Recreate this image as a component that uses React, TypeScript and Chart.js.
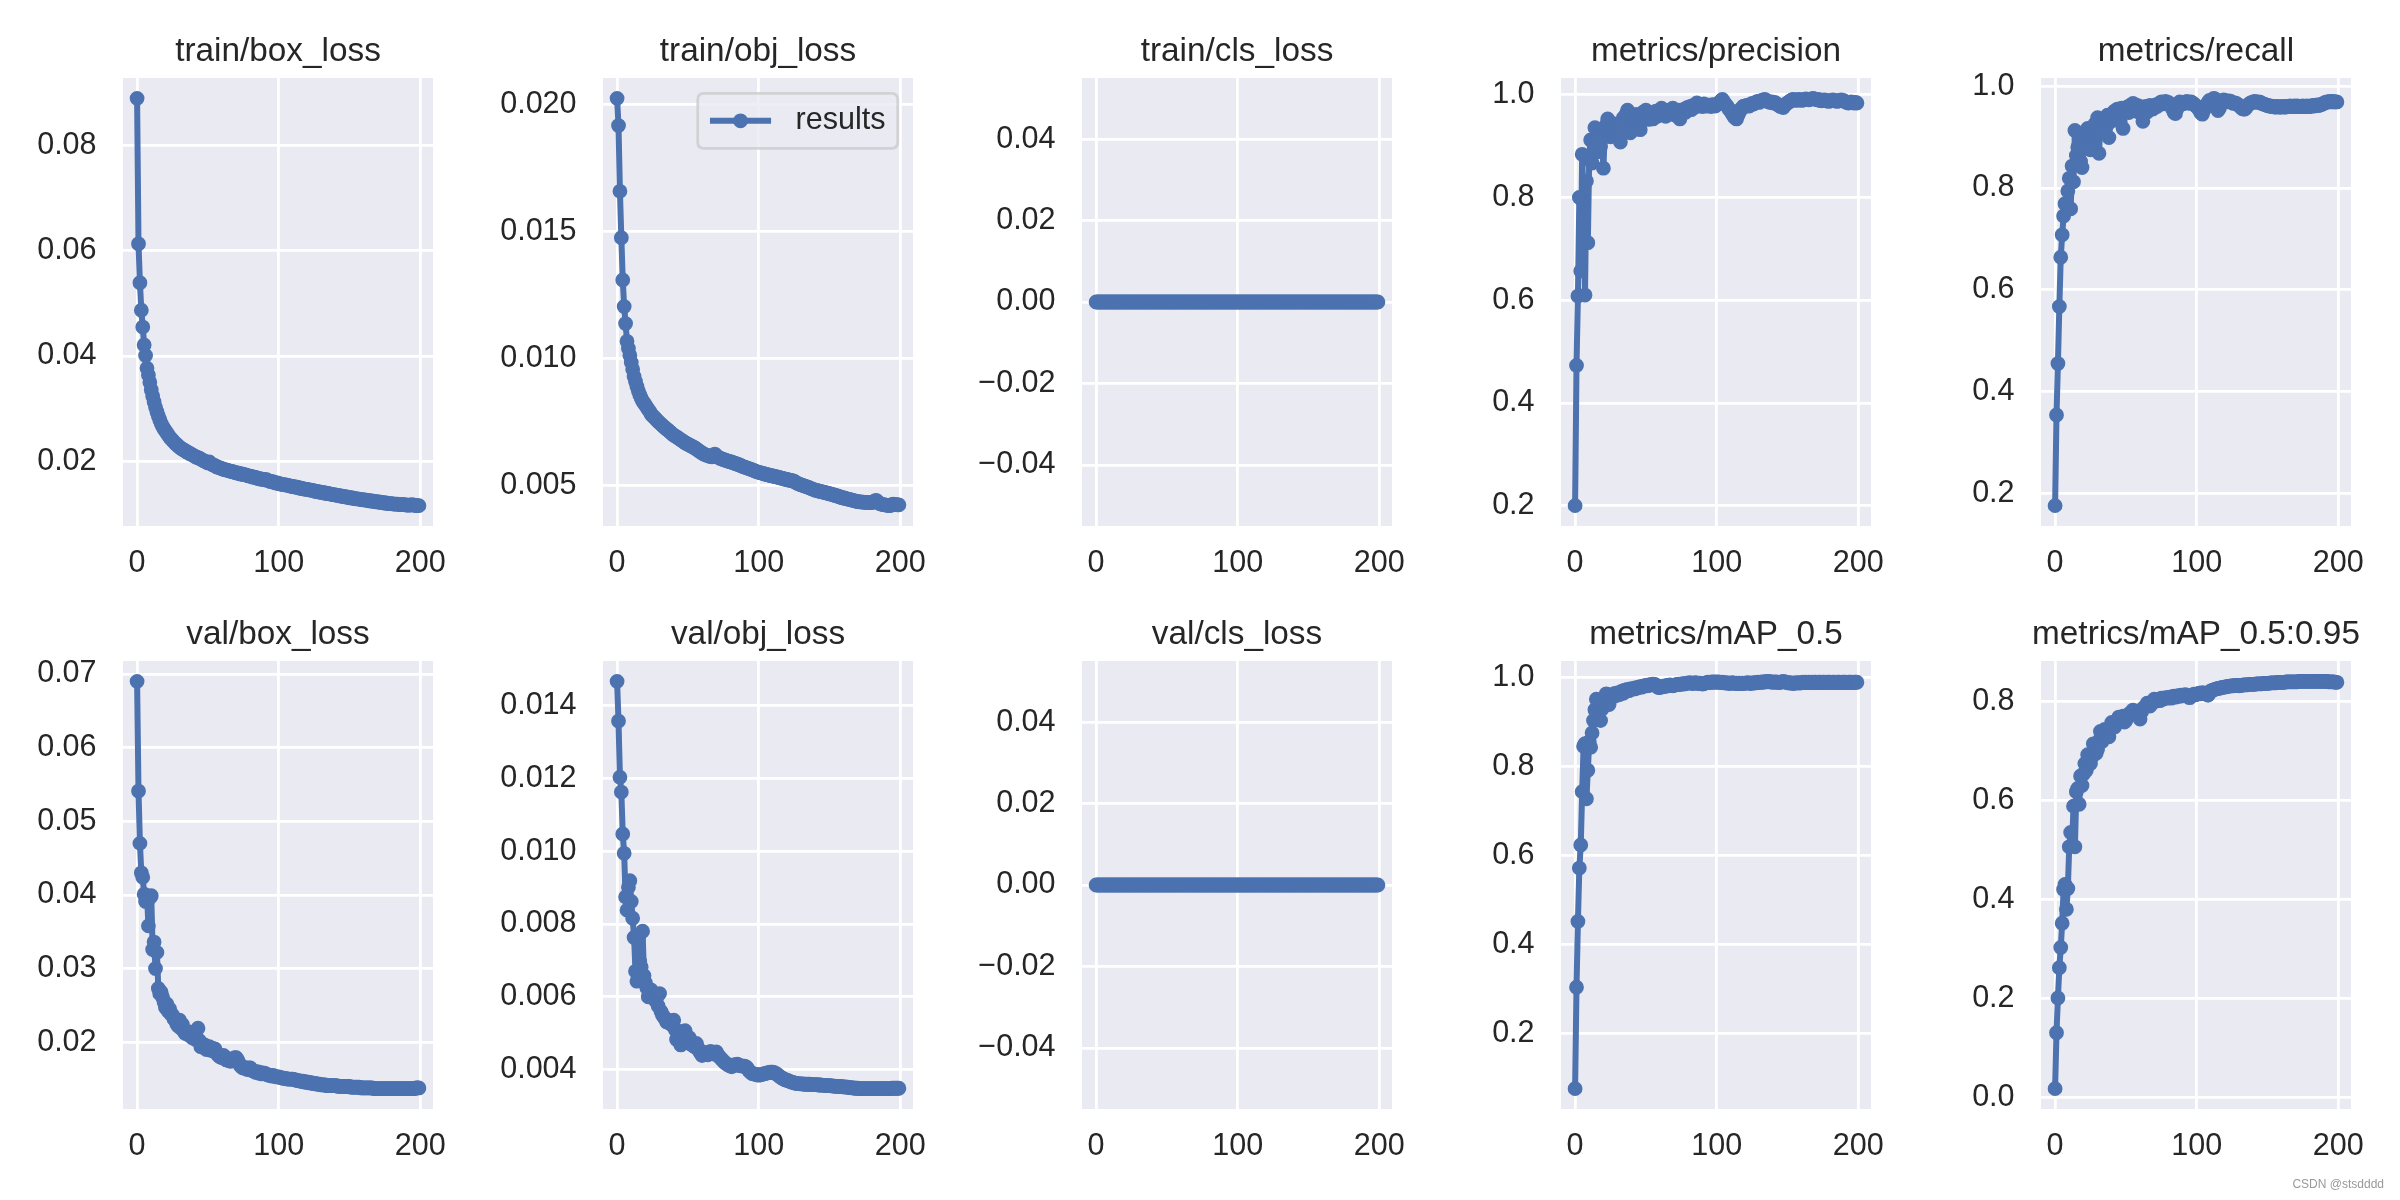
import React, { useEffect, useRef } from "react";
import { Chart, registerables } from "chart.js";

Chart.register(...registerables);

// ---------------- data ----------------
const epochs: number[] = Array.from({ length: 200 }, (_, i) => i);

const trainBoxLoss = [
  0.0889, 0.0613, 0.0539, 0.0487, 0.0455, 0.0421, 0.0401, 0.0377, 0.0364, 0.0350,
  0.0336, 0.0324, 0.0313, 0.0303, 0.0294, 0.0286, 0.0279, 0.0272, 0.0266, 0.0262,
  0.0258, 0.0254, 0.0250, 0.0246, 0.0243, 0.0240, 0.0237, 0.0234, 0.0232, 0.0229,
  0.0227, 0.0225, 0.0223, 0.0222, 0.0220, 0.0218, 0.0217, 0.0215, 0.0214, 0.0212,
  0.0211, 0.0209, 0.0208, 0.0207, 0.0206, 0.0204, 0.0203, 0.0201, 0.0200, 0.0199,
  0.0197, 0.0199, 0.0196, 0.0194, 0.0193, 0.0192, 0.0190, 0.0189, 0.0188, 0.0187,
  0.0186, 0.0185, 0.0184, 0.0184, 0.0183, 0.0182, 0.0181, 0.0181, 0.0180, 0.0179,
  0.0178, 0.0178, 0.0177, 0.0176, 0.0176, 0.0175, 0.0175, 0.0174, 0.0173, 0.0172,
  0.0172, 0.0171, 0.0170, 0.0170, 0.0169, 0.0168, 0.0167, 0.0167, 0.0166, 0.0166,
  0.0165, 0.0166, 0.0164, 0.0163, 0.0162, 0.0162, 0.0161, 0.0160, 0.0159, 0.0159,
  0.0158, 0.0157, 0.0157, 0.0156, 0.0156, 0.0155, 0.0155, 0.0154, 0.0153, 0.0153,
  0.0152, 0.0152, 0.0151, 0.0151, 0.0150, 0.0149, 0.0149, 0.0148, 0.0148, 0.0147,
  0.0147, 0.0146, 0.0146, 0.0145, 0.0145, 0.0144, 0.0143, 0.0143, 0.0142, 0.0142,
  0.0141, 0.0141, 0.0140, 0.0140, 0.0139, 0.0139, 0.0138, 0.0138, 0.0137, 0.0137,
  0.0136, 0.0136, 0.0135, 0.0135, 0.0134, 0.0134, 0.0133, 0.0133, 0.0132, 0.0132,
  0.0131, 0.0131, 0.0130, 0.0130, 0.0129, 0.0129, 0.0129, 0.0128, 0.0128, 0.0127,
  0.0127, 0.0127, 0.0126, 0.0126, 0.0125, 0.0125, 0.0125, 0.0124, 0.0124, 0.0123,
  0.0123, 0.0123, 0.0122, 0.0122, 0.0121, 0.0121, 0.0121, 0.0120, 0.0120, 0.0120,
  0.0120, 0.0119, 0.0119, 0.0119, 0.0119, 0.0118, 0.0118, 0.0118, 0.0118, 0.0118,
  0.0117, 0.0117, 0.0117, 0.0117, 0.0118, 0.0117, 0.0117, 0.0116, 0.0116, 0.0116,
];

const trainObjLoss = [
  0.02025, 0.01918, 0.01659, 0.01476, 0.01310, 0.01205, 0.01138, 0.01068, 0.01040, 0.01013,
  0.00985, 0.00958, 0.00930, 0.00910, 0.00890, 0.00873, 0.00858, 0.00845, 0.00833, 0.00825,
  0.00817, 0.00808, 0.00800, 0.00792, 0.00782, 0.00775, 0.00770, 0.00764, 0.00758, 0.00752,
  0.00747, 0.00742, 0.00737, 0.00732, 0.00727, 0.00722, 0.00718, 0.00713, 0.00708, 0.00703,
  0.00698, 0.00695, 0.00692, 0.00688, 0.00684, 0.00680, 0.00677, 0.00673, 0.00669, 0.00666,
  0.00663, 0.00660, 0.00657, 0.00654, 0.00651, 0.00648, 0.00644, 0.00640, 0.00636, 0.00632,
  0.00628, 0.00625, 0.00622, 0.00620, 0.00618, 0.00616, 0.00614, 0.00613, 0.00620, 0.00624,
  0.00618, 0.00613, 0.00610, 0.00607, 0.00605, 0.00603, 0.00601, 0.00599, 0.00597, 0.00595,
  0.00594, 0.00592, 0.00590, 0.00588, 0.00586, 0.00584, 0.00582, 0.00580, 0.00577, 0.00575,
  0.00573, 0.00571, 0.00569, 0.00567, 0.00565, 0.00563, 0.00561, 0.00558, 0.00556, 0.00554,
  0.00552, 0.00551, 0.00549, 0.00548, 0.00546, 0.00545, 0.00543, 0.00542, 0.00540, 0.00539,
  0.00538, 0.00536, 0.00535, 0.00534, 0.00532, 0.00531, 0.00529, 0.00528, 0.00526, 0.00525,
  0.00524, 0.00522, 0.00521, 0.00520, 0.00518, 0.00517, 0.00513, 0.00510, 0.00507, 0.00505,
  0.00503, 0.00501, 0.00499, 0.00497, 0.00495, 0.00493, 0.00491, 0.00488, 0.00486, 0.00484,
  0.00482, 0.00481, 0.00479, 0.00478, 0.00476, 0.00475, 0.00474, 0.00472, 0.00471, 0.00469,
  0.00468, 0.00466, 0.00465, 0.00463, 0.00461, 0.00460, 0.00458, 0.00456, 0.00454, 0.00452,
  0.00451, 0.00450, 0.00448, 0.00447, 0.00446, 0.00444, 0.00443, 0.00441, 0.00440, 0.00438,
  0.00437, 0.00436, 0.00436, 0.00435, 0.00435, 0.00434, 0.00434, 0.00433, 0.00433, 0.00433,
  0.00433, 0.00436, 0.00440, 0.00442, 0.00436, 0.00430, 0.00428, 0.00426, 0.00425, 0.00424,
  0.00423, 0.00422, 0.00421, 0.00421, 0.00425, 0.00427, 0.00426, 0.00425, 0.00424, 0.00424,
];

const trainClsLoss = [
  0, 0, 0, 0, 0, 0, 0, 0, 0, 0, 0, 0, 0, 0, 0, 0, 0, 0, 0, 0,
  0, 0, 0, 0, 0, 0, 0, 0, 0, 0, 0, 0, 0, 0, 0, 0, 0, 0, 0, 0,
  0, 0, 0, 0, 0, 0, 0, 0, 0, 0, 0, 0, 0, 0, 0, 0, 0, 0, 0, 0,
  0, 0, 0, 0, 0, 0, 0, 0, 0, 0, 0, 0, 0, 0, 0, 0, 0, 0, 0, 0,
  0, 0, 0, 0, 0, 0, 0, 0, 0, 0, 0, 0, 0, 0, 0, 0, 0, 0, 0, 0,
  0, 0, 0, 0, 0, 0, 0, 0, 0, 0, 0, 0, 0, 0, 0, 0, 0, 0, 0, 0,
  0, 0, 0, 0, 0, 0, 0, 0, 0, 0, 0, 0, 0, 0, 0, 0, 0, 0, 0, 0,
  0, 0, 0, 0, 0, 0, 0, 0, 0, 0, 0, 0, 0, 0, 0, 0, 0, 0, 0, 0,
  0, 0, 0, 0, 0, 0, 0, 0, 0, 0, 0, 0, 0, 0, 0, 0, 0, 0, 0, 0,
  0, 0, 0, 0, 0, 0, 0, 0, 0, 0, 0, 0, 0, 0, 0, 0, 0, 0, 0, 0,
];

const precision = [
  0.200, 0.473, 0.608, 0.800, 0.657, 0.884, 0.790, 0.610, 0.832, 0.712,
  0.880, 0.912, 0.867, 0.905, 0.936, 0.905, 0.889, 0.921, 0.900, 0.915,
  0.857, 0.930, 0.941, 0.953, 0.928, 0.918, 0.935, 0.944, 0.940, 0.924,
  0.938, 0.930, 0.908, 0.946, 0.955, 0.944, 0.962, 0.970, 0.957, 0.926,
  0.948, 0.958, 0.950, 0.962, 0.941, 0.954, 0.932, 0.960, 0.966, 0.955,
  0.970, 0.958, 0.952, 0.961, 0.965, 0.953, 0.962, 0.968, 0.958, 0.960,
  0.964, 0.974, 0.962, 0.966, 0.958, 0.967, 0.970, 0.962, 0.968, 0.974,
  0.966, 0.960, 0.963, 0.970, 0.953, 0.964, 0.968, 0.972, 0.966, 0.975,
  0.973, 0.977, 0.971, 0.979, 0.975, 0.980, 0.984, 0.978, 0.981, 0.979,
  0.977, 0.982, 0.980, 0.978, 0.980, 0.979, 0.977, 0.981, 0.980, 0.978,
  0.981, 0.983, 0.985, 0.988, 0.991, 0.986, 0.982, 0.979, 0.975, 0.971,
  0.968, 0.963, 0.958, 0.955, 0.953, 0.960, 0.966, 0.972, 0.975, 0.978,
  0.977, 0.979, 0.980, 0.978, 0.981, 0.983, 0.982, 0.984, 0.986, 0.987,
  0.985, 0.988, 0.989, 0.990, 0.991, 0.989, 0.987, 0.986, 0.985, 0.986,
  0.984, 0.985, 0.983, 0.981, 0.979, 0.977, 0.978, 0.975, 0.979, 0.982,
  0.984, 0.986, 0.988, 0.990, 0.991, 0.990, 0.989, 0.990, 0.991, 0.990,
  0.989, 0.990, 0.991, 0.992, 0.991, 0.990, 0.991, 0.992, 0.993, 0.992,
  0.991, 0.990, 0.991, 0.989, 0.988, 0.989, 0.990, 0.989, 0.988, 0.987,
  0.988, 0.989, 0.990, 0.989, 0.988, 0.987, 0.988, 0.989, 0.990, 0.989,
  0.988, 0.986, 0.985, 0.984, 0.985, 0.986, 0.985, 0.984, 0.985, 0.984,
];

const recall = [
  0.176, 0.354, 0.455, 0.567, 0.664, 0.708, 0.745, 0.769, 0.766, 0.794,
  0.819, 0.759, 0.843, 0.812, 0.913, 0.864, 0.880, 0.896, 0.852, 0.840,
  0.876, 0.905, 0.889, 0.917, 0.885, 0.875, 0.900, 0.912, 0.925, 0.903,
  0.938, 0.868, 0.921, 0.910, 0.928, 0.935, 0.920, 0.943, 0.899, 0.930,
  0.945, 0.936, 0.951, 0.940, 0.955, 0.948, 0.930, 0.957, 0.917, 0.950,
  0.954, 0.959, 0.948, 0.962, 0.955, 0.966, 0.958, 0.963, 0.950, 0.961,
  0.952, 0.948, 0.931, 0.955, 0.960, 0.949, 0.958, 0.962, 0.959, 0.955,
  0.961, 0.963, 0.960, 0.965, 0.967, 0.969, 0.965, 0.968, 0.970, 0.966,
  0.968, 0.965, 0.960, 0.955, 0.948, 0.946, 0.955, 0.963, 0.969, 0.967,
  0.965, 0.967, 0.968, 0.970, 0.968, 0.966, 0.969, 0.967, 0.965, 0.962,
  0.960, 0.957, 0.952, 0.947, 0.945, 0.952, 0.958, 0.963, 0.968, 0.972,
  0.970, 0.973, 0.976, 0.975, 0.960, 0.952, 0.956, 0.965, 0.970, 0.973,
  0.972, 0.970, 0.969, 0.971, 0.970, 0.968, 0.966, 0.967, 0.966, 0.964,
  0.962, 0.959, 0.956, 0.955, 0.955, 0.958, 0.962, 0.965, 0.967, 0.968,
  0.969, 0.970, 0.969, 0.968, 0.969, 0.968, 0.966, 0.965, 0.964, 0.963,
  0.962, 0.961, 0.961, 0.960, 0.960, 0.959, 0.959, 0.960, 0.959, 0.959,
  0.959, 0.960, 0.959, 0.959, 0.960, 0.960, 0.961, 0.960, 0.960, 0.961,
  0.960, 0.961, 0.960, 0.960, 0.960, 0.961, 0.960, 0.960, 0.961, 0.960,
  0.960, 0.961, 0.962, 0.961, 0.962, 0.963, 0.962, 0.963, 0.964, 0.965,
  0.967, 0.968, 0.969, 0.969, 0.970, 0.969, 0.970, 0.969, 0.969, 0.969,
];

const valBoxLoss = [
  0.0690, 0.0541, 0.0470, 0.0430, 0.0424, 0.0401, 0.0391, 0.0399, 0.0358, 0.0396,
  0.0399, 0.0326, 0.0336, 0.0300, 0.0322, 0.0273, 0.0266, 0.0268, 0.0261, 0.0255,
  0.0247, 0.0252, 0.0242, 0.0245, 0.0238, 0.0237, 0.0232, 0.0230, 0.0225, 0.0222,
  0.0230, 0.0219, 0.0224, 0.0215, 0.0212, 0.0213, 0.0210, 0.0214, 0.0208, 0.0206,
  0.0211, 0.0204, 0.0206, 0.0219, 0.0202, 0.0194, 0.0198, 0.0193, 0.0196, 0.0190,
  0.0191, 0.0194, 0.0189, 0.0192, 0.0188, 0.0191, 0.0186, 0.0183, 0.0181, 0.0180,
  0.0179, 0.0182, 0.0178, 0.0176, 0.0178, 0.0175, 0.0174, 0.0176, 0.0177, 0.0179,
  0.0179, 0.0176, 0.0172, 0.0168, 0.0166, 0.0165, 0.0166, 0.0164, 0.0163, 0.0165,
  0.0165, 0.0162, 0.0161, 0.0160, 0.0159, 0.0160, 0.0158, 0.0159, 0.0157, 0.0158,
  0.0158, 0.0157, 0.0156, 0.0155, 0.0155, 0.0154, 0.0155, 0.0154, 0.0153, 0.0153,
  0.0153, 0.0152, 0.0152, 0.0151, 0.0151, 0.0151, 0.0150, 0.0150, 0.0150, 0.0150,
  0.0150, 0.0149, 0.0149, 0.0148, 0.0148, 0.0147, 0.0147, 0.0147, 0.0146, 0.0146,
  0.0146, 0.0145, 0.0145, 0.0145, 0.0144, 0.0144, 0.0144, 0.0143, 0.0143, 0.0143,
  0.0142, 0.0142, 0.0142, 0.0142, 0.0141, 0.0141, 0.0141, 0.0141, 0.0141, 0.0141,
  0.0141, 0.0141, 0.0140, 0.0140, 0.0140, 0.0140, 0.0140, 0.0140, 0.0140, 0.0140,
  0.0140, 0.0139, 0.0139, 0.0139, 0.0139, 0.0139, 0.0139, 0.0139, 0.0138, 0.0138,
  0.0138, 0.0138, 0.0138, 0.0138, 0.0138, 0.0138, 0.0138, 0.0137, 0.0137, 0.0137,
  0.0137, 0.0137, 0.0137, 0.0137, 0.0137, 0.0137, 0.0137, 0.0137, 0.0137, 0.0137,
  0.0137, 0.0137, 0.0137, 0.0137, 0.0137, 0.0137, 0.0137, 0.0137, 0.0137, 0.0137,
  0.0137, 0.0137, 0.0137, 0.0137, 0.0137, 0.0137, 0.0137, 0.0138, 0.0138, 0.0138,
];

const valObjLoss = [
  0.01466, 0.01357, 0.01203, 0.01162, 0.01047, 0.00994, 0.00874, 0.00838, 0.00901, 0.00919,
  0.00862, 0.00816, 0.00763, 0.00670, 0.00643, 0.00763, 0.00697, 0.00682, 0.00780, 0.00658,
  0.00639, 0.00625, 0.00600, 0.00612, 0.00619, 0.00604, 0.00596, 0.00590, 0.00598, 0.00575,
  0.00609, 0.00560, 0.00551, 0.00545, 0.00540, 0.00531, 0.00535, 0.00528, 0.00525, 0.00530,
  0.00536, 0.00510, 0.00483, 0.00495, 0.00505, 0.00468, 0.00490, 0.00500, 0.00507, 0.00485,
  0.00478, 0.00488, 0.00470, 0.00475, 0.00465, 0.00463, 0.00472, 0.00460, 0.00452, 0.00445,
  0.00439, 0.00448, 0.00442, 0.00446, 0.00441, 0.00444, 0.00450, 0.00446, 0.00443, 0.00447,
  0.00449, 0.00442, 0.00436, 0.00432, 0.00428, 0.00424, 0.00420, 0.00417, 0.00414, 0.00412,
  0.00410, 0.00408, 0.00412, 0.00414, 0.00413, 0.00415, 0.00412, 0.00411, 0.00410, 0.00410,
  0.00410, 0.00408, 0.00404, 0.00398, 0.00394, 0.00390, 0.00389, 0.00388, 0.00387, 0.00386,
  0.00385, 0.00386, 0.00387, 0.00388, 0.00389, 0.00390, 0.00391, 0.00392, 0.00393, 0.00393,
  0.00393, 0.00392, 0.00390, 0.00387, 0.00384, 0.00381, 0.00378, 0.00376, 0.00374, 0.00372,
  0.00371, 0.00369, 0.00368, 0.00366, 0.00365, 0.00364, 0.00363, 0.00362, 0.00362, 0.00361,
  0.00361, 0.00361, 0.00360, 0.00360, 0.00360, 0.00360, 0.00360, 0.00359, 0.00359, 0.00359,
  0.00359, 0.00359, 0.00358, 0.00358, 0.00358, 0.00357, 0.00357, 0.00357, 0.00356, 0.00356,
  0.00356, 0.00356, 0.00355, 0.00355, 0.00355, 0.00354, 0.00354, 0.00354, 0.00354, 0.00353,
  0.00353, 0.00353, 0.00352, 0.00352, 0.00351, 0.00351, 0.00350, 0.00350, 0.00349, 0.00349,
  0.00349, 0.00348, 0.00348, 0.00348, 0.00348, 0.00348, 0.00348, 0.00348, 0.00348, 0.00348,
  0.00348, 0.00348, 0.00348, 0.00348, 0.00348, 0.00348, 0.00348, 0.00348, 0.00348, 0.00348,
  0.00348, 0.00348, 0.00348, 0.00348, 0.00349, 0.00349, 0.00349, 0.00349, 0.00349, 0.00349,
];

const valClsLoss = [
  0, 0, 0, 0, 0, 0, 0, 0, 0, 0, 0, 0, 0, 0, 0, 0, 0, 0, 0, 0,
  0, 0, 0, 0, 0, 0, 0, 0, 0, 0, 0, 0, 0, 0, 0, 0, 0, 0, 0, 0,
  0, 0, 0, 0, 0, 0, 0, 0, 0, 0, 0, 0, 0, 0, 0, 0, 0, 0, 0, 0,
  0, 0, 0, 0, 0, 0, 0, 0, 0, 0, 0, 0, 0, 0, 0, 0, 0, 0, 0, 0,
  0, 0, 0, 0, 0, 0, 0, 0, 0, 0, 0, 0, 0, 0, 0, 0, 0, 0, 0, 0,
  0, 0, 0, 0, 0, 0, 0, 0, 0, 0, 0, 0, 0, 0, 0, 0, 0, 0, 0, 0,
  0, 0, 0, 0, 0, 0, 0, 0, 0, 0, 0, 0, 0, 0, 0, 0, 0, 0, 0, 0,
  0, 0, 0, 0, 0, 0, 0, 0, 0, 0, 0, 0, 0, 0, 0, 0, 0, 0, 0, 0,
  0, 0, 0, 0, 0, 0, 0, 0, 0, 0, 0, 0, 0, 0, 0, 0, 0, 0, 0, 0,
  0, 0, 0, 0, 0, 0, 0, 0, 0, 0, 0, 0, 0, 0, 0, 0, 0, 0, 0, 0,
];

const mAP50 = [
  0.076, 0.304, 0.452, 0.572, 0.624, 0.744, 0.846, 0.852, 0.728, 0.792,
  0.856, 0.844, 0.876, 0.904, 0.928, 0.952, 0.920, 0.935, 0.904, 0.930,
  0.936, 0.950, 0.964, 0.958, 0.940, 0.955, 0.962, 0.958, 0.965, 0.960,
  0.966, 0.962, 0.968, 0.970, 0.965, 0.972, 0.970, 0.974, 0.971, 0.975,
  0.974, 0.976, 0.975, 0.978, 0.977, 0.979, 0.980, 0.979, 0.981, 0.982,
  0.983, 0.982, 0.984, 0.983, 0.985, 0.986, 0.985, 0.984, 0.980, 0.978,
  0.978, 0.980, 0.981, 0.980, 0.982, 0.983, 0.982, 0.984, 0.983, 0.982,
  0.983, 0.984, 0.985, 0.986, 0.985, 0.986, 0.987, 0.986, 0.987, 0.988,
  0.988, 0.989, 0.988, 0.987, 0.988, 0.989, 0.988, 0.987, 0.988, 0.987,
  0.986, 0.987, 0.988, 0.989, 0.990, 0.989, 0.990, 0.991, 0.990, 0.991,
  0.990, 0.991, 0.990, 0.989, 0.990, 0.989, 0.988, 0.989, 0.988, 0.987,
  0.988, 0.989, 0.988, 0.987, 0.988, 0.987, 0.988, 0.987, 0.988, 0.987,
  0.988, 0.988, 0.989, 0.988, 0.987, 0.988, 0.989, 0.988, 0.989, 0.990,
  0.989, 0.990, 0.991, 0.990, 0.991, 0.992, 0.991, 0.992, 0.991, 0.990,
  0.991, 0.990, 0.991, 0.990, 0.989, 0.990, 0.991, 0.992, 0.991, 0.990,
  0.989, 0.988, 0.989, 0.988, 0.987, 0.988, 0.989, 0.988, 0.989, 0.988,
  0.989, 0.990, 0.989, 0.990, 0.989, 0.990, 0.989, 0.990, 0.989, 0.990,
  0.990, 0.989, 0.990, 0.990, 0.989, 0.990, 0.990, 0.989, 0.990, 0.990,
  0.990, 0.989, 0.990, 0.990, 0.989, 0.990, 0.990, 0.990, 0.989, 0.990,
  0.990, 0.990, 0.989, 0.990, 0.990, 0.990, 0.989, 0.990, 0.990, 0.990,
];

const mAP5095 = [
  0.018, 0.131, 0.201, 0.262, 0.303, 0.352, 0.420, 0.430, 0.380, 0.422,
  0.506, 0.535, 0.510, 0.588, 0.506, 0.617, 0.624, 0.592, 0.649, 0.630,
  0.653, 0.674, 0.660, 0.692, 0.680, 0.674, 0.688, 0.714, 0.700, 0.695,
  0.703, 0.720, 0.739, 0.718, 0.725, 0.743, 0.732, 0.738, 0.728, 0.745,
  0.757, 0.750, 0.748, 0.755, 0.760, 0.768, 0.764, 0.766, 0.770, 0.758,
  0.761, 0.770, 0.773, 0.776, 0.775, 0.782, 0.779, 0.776, 0.780, 0.770,
  0.764, 0.778, 0.785, 0.788, 0.790, 0.796, 0.793, 0.790, 0.795, 0.798,
  0.804, 0.800, 0.802, 0.803, 0.801, 0.806, 0.804, 0.805, 0.807, 0.806,
  0.807, 0.808, 0.806, 0.809, 0.810, 0.808, 0.810, 0.811, 0.810, 0.812,
  0.811, 0.812, 0.813, 0.811, 0.809, 0.807, 0.810, 0.812, 0.814, 0.813,
  0.814, 0.815, 0.816, 0.815, 0.817, 0.816, 0.815, 0.814, 0.812, 0.816,
  0.821, 0.822, 0.823, 0.824, 0.825, 0.826, 0.826, 0.827, 0.828, 0.828,
  0.829, 0.829, 0.830, 0.830, 0.831, 0.831, 0.831, 0.832, 0.832, 0.832,
  0.831, 0.832, 0.832, 0.833, 0.833, 0.833, 0.833, 0.834, 0.834, 0.834,
  0.834, 0.834, 0.835, 0.835, 0.835, 0.835, 0.835, 0.836, 0.836, 0.836,
  0.836, 0.836, 0.837, 0.837, 0.837, 0.837, 0.837, 0.838, 0.838, 0.838,
  0.838, 0.838, 0.838, 0.839, 0.839, 0.839, 0.839, 0.839, 0.839, 0.839,
  0.839, 0.839, 0.840, 0.840, 0.840, 0.840, 0.840, 0.840, 0.840, 0.840,
  0.840, 0.840, 0.840, 0.840, 0.840, 0.840, 0.840, 0.840, 0.840, 0.840,
  0.840, 0.840, 0.840, 0.839, 0.839, 0.839, 0.839, 0.839, 0.838, 0.838,
];

// tick labels
const xTickLabels = ["0", "100", "200"];
const trainBoxTicks = ["0.02", "0.04", "0.06", "0.08"];
const trainObjTicks = ["0.005", "0.010", "0.015", "0.020"];
const clsTicks = ["\u22120.04", "\u22120.02", "0.00", "0.02", "0.04"];
const unitTicks = ["0.2", "0.4", "0.6", "0.8", "1.0"];
const valBoxTicks = ["0.02", "0.03", "0.04", "0.05", "0.06", "0.07"];
const valObjTicks = ["0.004", "0.006", "0.008", "0.010", "0.012", "0.014"];
const mapTicks = ["0.0", "0.2", "0.4", "0.6", "0.8"];

const seriesLabel = "results";
const watermark = "CSDN @stsdddd";

type PanelDef = { title: string; values: number[]; ticks: string[]; legend?: boolean };

const panels: PanelDef[] = [
  { title: "train/box_loss", values: trainBoxLoss, ticks: trainBoxTicks },
  { title: "train/obj_loss", values: trainObjLoss, ticks: trainObjTicks, legend: true },
  { title: "train/cls_loss", values: trainClsLoss, ticks: clsTicks },
  { title: "metrics/precision", values: precision, ticks: unitTicks },
  { title: "metrics/recall", values: recall, ticks: unitTicks },
  { title: "val/box_loss", values: valBoxLoss, ticks: valBoxTicks },
  { title: "val/obj_loss", values: valObjLoss, ticks: valObjTicks },
  { title: "val/cls_loss", values: valClsLoss, ticks: clsTicks },
  { title: "metrics/mAP_0.5", values: mAP50, ticks: unitTicks },
  { title: "metrics/mAP_0.5:0.95", values: mAP5095, ticks: mapTicks },
];

// ---------------- layout / style ----------------
const AX_LEFTS = [123, 603, 1082, 1561, 2041];
const AX_TOPS = [78, 661];
const AX_W = 310;
const AX_H = 448;
const PAD_L = 120;
const PAD_R = 40;
const PAD_T = 66;
const PAD_B = 70;

const FONT = '"Liberation Sans", Arial, "DejaVu Sans", sans-serif';
const TEXT = "#262626";
const BLUE = "#4C72B0";
const AX_BG = "#EAEAF2";
const TICK_PX = 30.56;
const TITLE_PX = 33.33;
const LW = 6;
const PT_R = 6;
const PT_BW = 2.8;

const parseTick = (s: string) => parseFloat(s.replace("\u2212", "-"));

const axesBgPlugin = {
  id: "axesBg",
  beforeDraw(chart: any) {
    const { ctx, chartArea: a } = chart;
    ctx.save();
    ctx.fillStyle = AX_BG;
    ctx.fillRect(a.left, a.top, a.right - a.left, a.bottom - a.top);
    ctx.restore();
  },
};

const mplTitlePlugin = {
  id: "mplTitle",
  afterDraw(chart: any, _args: any, opts: any) {
    if (!opts || !opts.text) return;
    const { ctx, chartArea: a } = chart;
    ctx.save();
    ctx.font = `${TITLE_PX}px ${FONT}`;
    ctx.fillStyle = TEXT;
    ctx.textAlign = "center";
    ctx.textBaseline = "alphabetic";
    ctx.fillText(opts.text, (a.left + a.right) / 2, a.top - 16.7);
    ctx.restore();
  },
};

const mplLegendPlugin = {
  id: "mplLegend",
  afterDatasetsDraw(chart: any, _args: any, opts: any) {
    if (!opts || !opts.display) return;
    const { ctx, chartArea: a } = chart;
    const ds = chart.data.datasets[0];
    const fs = TICK_PX;
    ctx.save();
    ctx.font = `${fs}px ${FONT}`;
    const tw = ctx.measureText(ds.label).width;
    const bp = 0.4 * fs, hl = 2.0 * fs, htp = 0.8 * fs, bap = 0.5 * fs;
    const w = 2 * bp + hl + htp + tw;
    const h = 2 * bp + fs;
    const x0 = a.right - bap - w;
    const y0 = a.top + bap;
    const r = 0.2 * fs;
    ctx.beginPath();
    ctx.moveTo(x0 + r, y0);
    ctx.lineTo(x0 + w - r, y0);
    ctx.quadraticCurveTo(x0 + w, y0, x0 + w, y0 + r);
    ctx.lineTo(x0 + w, y0 + h - r);
    ctx.quadraticCurveTo(x0 + w, y0 + h, x0 + w - r, y0 + h);
    ctx.lineTo(x0 + r, y0 + h);
    ctx.quadraticCurveTo(x0, y0 + h, x0, y0 + h - r);
    ctx.lineTo(x0, y0 + r);
    ctx.quadraticCurveTo(x0, y0, x0 + r, y0);
    ctx.closePath();
    ctx.fillStyle = "rgba(234,234,242,0.8)";
    ctx.fill();
    ctx.lineWidth = 2.78;
    ctx.strokeStyle = "rgba(204,204,204,0.8)";
    ctx.stroke();
    const cy = y0 + h / 2;
    ctx.beginPath();
    ctx.moveTo(x0 + bp, cy);
    ctx.lineTo(x0 + bp + hl, cy);
    ctx.lineWidth = LW;
    ctx.strokeStyle = BLUE;
    ctx.stroke();
    ctx.beginPath();
    ctx.arc(x0 + bp + hl / 2, cy, PT_R, 0, Math.PI * 2);
    ctx.fillStyle = BLUE;
    ctx.fill();
    ctx.lineWidth = PT_BW;
    ctx.stroke();
    ctx.fillStyle = TEXT;
    ctx.textAlign = "left";
    ctx.textBaseline = "middle";
    ctx.fillText(ds.label, x0 + bp + hl + htp, cy);
    ctx.restore();
  },
};

function Panel({ def, row, col }: { def: PanelDef; row: number; col: number }) {
  const ref = useRef<HTMLCanvasElement | null>(null);
  const left = AX_LEFTS[col] - PAD_L;
  const top = AX_TOPS[row] - PAD_T;
  const width = PAD_L + AX_W + PAD_R;
  const height = PAD_T + AX_H + PAD_B;

  useEffect(() => {
    if (!ref.current) return;
    let lo = Math.min(...def.values);
    let hi = Math.max(...def.values);
    if (hi - lo < 1e-12) {
      lo -= 0.05;
      hi += 0.05;
    }
    const m = 0.05 * (hi - lo);
    const yTickVals = def.ticks.map(parseTick);
    const xTickVals = xTickLabels.map(parseTick);
    const xm = 0.05 * (epochs[epochs.length - 1] - epochs[0]);

    const chart = new Chart(ref.current, {
      type: "line",
      data: {
        datasets: [
          {
            label: seriesLabel,
            data: epochs.map((e, i) => ({ x: e, y: def.values[i] })),
            borderColor: BLUE,
            backgroundColor: BLUE,
            borderWidth: LW,
            borderJoinStyle: "round",
            borderCapStyle: "round",
            pointRadius: PT_R,
            pointBorderWidth: PT_BW,
            pointBackgroundColor: BLUE,
            pointBorderColor: BLUE,
            pointHoverRadius: PT_R,
            tension: 0,
            fill: false,
          },
        ],
      },
      options: {
        responsive: false,
        maintainAspectRatio: false,
        animation: false,
        devicePixelRatio: 1,
        events: [],
        layout: { padding: { top: PAD_T, right: PAD_R, left: 0, bottom: 0 } },
        plugins: {
          legend: { display: false },
          tooltip: { enabled: false },
          title: { display: false },
          mplTitle: { text: def.title },
          mplLegend: { display: !!def.legend },
        } as any,
        scales: {
          x: {
            type: "linear",
            min: epochs[0] - xm,
            max: epochs[epochs.length - 1] + xm,
            afterFit: (s: any) => {
              s.height = PAD_B;
            },
            afterBuildTicks: (s: any) => {
              s.ticks = xTickVals.map((v) => ({ value: v }));
            },
            ticks: {
              autoSkip: false,
              maxRotation: 0,
              padding: 19,
              color: TEXT,
              font: { family: FONT, size: TICK_PX },
              callback: (_v: any, i: number) => xTickLabels[i],
            },
            grid: { color: "#ffffff", lineWidth: 2.78, drawTicks: false },
            border: { display: false },
          },
          y: {
            type: "linear",
            min: lo - m,
            max: hi + m,
            afterFit: (s: any) => {
              s.width = PAD_L;
            },
            afterBuildTicks: (s: any) => {
              s.ticks = yTickVals.map((v) => ({ value: v }));
            },
            ticks: {
              autoSkip: false,
              padding: 26.4,
              color: TEXT,
              font: { family: FONT, size: TICK_PX },
              callback: (_v: any, i: number) => def.ticks[i],
            },
            grid: { color: "#ffffff", lineWidth: 2.78, drawTicks: false },
            border: { display: false },
          },
        },
      },
      plugins: [axesBgPlugin, mplTitlePlugin, mplLegendPlugin],
    } as any);
    return () => chart.destroy();
  }, [def]);

  return (
    <canvas
      ref={ref}
      width={width}
      height={height}
      style={{ position: "absolute", left, top, width, height }}
    />
  );
}

export default function App() {
  useEffect(() => {
    document.body.style.margin = "0";
  }, []);
  return (
    <div
      style={{
        position: "absolute",
        left: 0,
        top: 0,
        width: 2400,
        height: 1200,
        background: "#ffffff",
        overflow: "hidden",
      }}
    >
      {panels.map((p, i) => (
        <Panel key={p.title} def={p} row={Math.floor(i / 5)} col={i % 5} />
      ))}
      <div
        style={{
          position: "absolute",
          right: 16,
          top: 1177,
          fontFamily: FONT,
          fontSize: 12,
          color: "#999999",
          whiteSpace: "nowrap",
        }}
      >
        {watermark}
      </div>
    </div>
  );
}
